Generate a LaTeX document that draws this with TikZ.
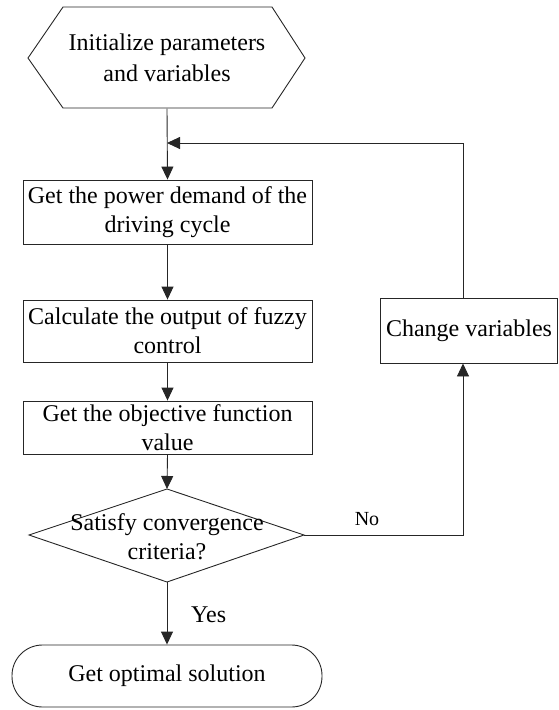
\documentclass[tikz,border=0pt]{standalone}
\usepackage{fontspec}
\setmainfont{Liberation Serif}
\usetikzlibrary{arrows.meta}
\begin{document}
\begin{tikzpicture}[x=1pt,y=-1pt,
  line/.style={draw=black!85, line width=0.9pt},
  arr/.style={line, -{Triangle[length=13pt,width=12pt]}},
  proc/.style={line, rectangle, align=center, inner sep=0pt,
    font=\fontsize{24}{29}\selectfont},
  txt/.style={align=center, inner sep=0pt, font=\fontsize{24}{29}\selectfont},
  lbl/.style={inner sep=0pt, font=\fontsize{20}{24}\selectfont}]
\useasboundingbox (0,0) rectangle (558,710);
% hexagon
\draw[line] (28,58) -- (63,7) -- (272,7) -- (305,58) -- (272,108) -- (63,108) -- cycle;
\node[txt, font=\fontsize{24}{31.5}\selectfont, minimum width=209pt, minimum height=101pt] (init) at (167,58) {Initialize parameters\\and variables};
% boxes
\node[proc, minimum width=289pt, minimum height=64pt] (b1) at (167.5,212) {Get the power demand of the\\driving cycle};
\node[proc, minimum width=289pt, minimum height=62pt] (b2) at (167.5,331) {Calculate the output of fuzzy\\control};
\node[proc, minimum width=289pt, minimum height=53pt] (b3) at (167.5,427.5) {Get the objective function\\value};
% diamond
\coordinate (dt) at (167,489);
\coordinate (dl) at (29,535);
\coordinate (dr) at (304,535);
\coordinate (db) at (167,582);
\draw[line] (dt) -- (dr) -- (db) -- (dl) -- cycle;
\node[txt] (dec) at (167,537) {Satisfy convergence\\criteria?};
% oval
\node[proc, rounded corners=30.5pt, minimum width=310pt, minimum height=62pt] (end) at (167,676) {Get optimal solution};
% change variables
\node[proc, minimum width=177pt, minimum height=65pt] (chg) at (469,330.5) {Change variables};
% merge point
\coordinate (m) at (167,143);
% connectors
\draw[arr] (init.south) -- (b1.north);
\draw[arr] (b1.south) -- (b2.north);
\draw[arr] (b2.south) -- (b3.north);
\draw[arr] (b3.south) -- (dt);
\draw[arr] (db) -- (end.north);
\node[txt, anchor=west] (yes) at (191,615) {Yes};
\draw[arr] (dr) -- (463,535) -- (chg.south -| 463,0);
\node[lbl] (no) at (367,519) {No};
\draw[arr] (chg.north -| 463,0) -- (463,143) -- (m);
\end{tikzpicture}
\end{document}
